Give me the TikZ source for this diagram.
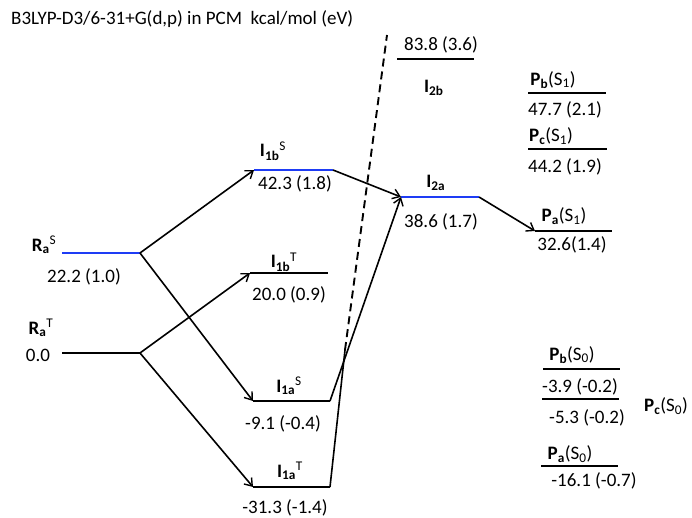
\documentclass[tikz,border=0pt]{standalone}
\usepackage{fontspec}
\setmainfont{Carlito}
\usetikzlibrary{arrows.meta}
\definecolor{lvlblue}{RGB}{30,60,245}
\tikzset{
  lvl/.style={line width=1.8pt, black},
  lvlb/.style={line width=1.8pt, lvlblue},
  arr/.style={line width=1.6pt, -{Straight Barb[length=7pt,width=10pt,line width=1.4pt]}},
  conn/.style={line width=1.6pt},
  txt/.style={font=\fontsize{19}{22}\selectfont, inner sep=0pt},
}
\newcommand{\lab}[3]{\textbf{#1}\textsubscript{\textbf{#2}}\textsuperscript{#3}}
\newcommand{\prd}[2]{\textbf{P}\textsubscript{\textbf{#1}}(S\textsubscript{#2})}
\begin{document}
\begin{tikzpicture}[x=1pt,y=-1pt]
\useasboundingbox (0,0) rectangle (692,518);
\node[txt, anchor=west] (title) at (11,19) {B3LYP-D3/6-31+G(d,p) in PCM\ \ kcal/mol (eV)};

% level end points
\coordinate (RaSl) at (62,253); \coordinate (RaSr) at (140,253);
\coordinate (RaTl) at (62,353); \coordinate (RaTr) at (140,353);
\coordinate (IbSl) at (254,170); \coordinate (IbSr) at (333,170);
\coordinate (IbTl) at (250,273); \coordinate (IbTr) at (328,273);
\coordinate (IaSl) at (253,401); \coordinate (IaSr) at (330,401);
\coordinate (IaTl) at (253,487); \coordinate (IaTr) at (330,487);
\coordinate (IIal) at (401,197); \coordinate (IIar) at (479,197);
\coordinate (IIbl) at (397,59);  \coordinate (IIbr) at (474,59);
\coordinate (PbSl) at (528,93);  \coordinate (PbSr) at (606,93);
\coordinate (PcSl) at (528,149); \coordinate (PcSr) at (607,149);
\coordinate (PaSl) at (535,231); \coordinate (PaSr) at (612,231);
\coordinate (PbOl) at (543,369); \coordinate (PbOr) at (620,369);
\coordinate (PcOl) at (542,399); \coordinate (PcOr) at (619,399);
\coordinate (PaOl) at (541,466); \coordinate (PaOr) at (618,466);
\coordinate (mid) at (345,350);
\coordinate (dtop) at (387,35);

% levels
\draw[lvlb] (RaSl) -- (RaSr);
\draw[lvl] (RaTl) -- (RaTr);
\draw[lvlb] (IbSl) -- (IbSr);
\draw[lvl] (IbTl) -- (IbTr);
\draw[lvl] (IaSl) -- (IaSr);
\draw[lvl] (IaTl) -- (IaTr);
\draw[lvlb] (IIal) -- (IIar);
\draw[lvl] (IIbl) -- (IIbr);
\draw[lvl] (PbSl) -- (PbSr);
\draw[lvl] (PcSl) -- (PcSr);
\draw[lvl] (PaSl) -- (PaSr);
\draw[lvl] (PbOl) -- (PbOr);
\draw[lvl] (PcOl) -- (PcOr);
\draw[lvl] (PaOl) -- (PaOr);

% connectors
\draw[arr] (RaSr) -- (IbSl);
\draw[arr] (RaSr) -- (IaSl);
\draw[arr] (RaTr) -- (IbTl);
\draw[arr] (RaTr) -- (IaTl);
\draw[arr] (IbSr) -- (IIal);
\draw[arr] (IaSr) -- (IIal);
\draw[arr] (IIar) -- (PaSl);
\draw[conn] (IaTr) -- (mid);
\draw[line width=1.9pt, dash pattern=on 8pt off 5pt] (mid) -- (dtop);

% labels
\node[txt] (lRaS) at (44,245) {\lab{R}{a}{S}};
\node[txt] (vRaS) at (84,277) {22.2 (1.0)};
\node[txt] (lRaT) at (41,328) {\lab{R}{a}{T}};
\node[txt] (vRaT) at (38,355) {0.0};
\node[txt] (lIbS) at (273,151) {\lab{I}{1b}{S}};
\node[txt] (vIbS) at (295,184) {42.3 (1.8)};
\node[txt] (lIbT) at (284,262) {\lab{I}{1b}{T}};
\node[txt] (vIbT) at (289,295) {20.0 (0.9)};
\node[txt] (lIaS) at (289,386) {\lab{I}{1a}{S}};
\node[txt] (vIaS) at (283,424) {-9.1 (-0.4)};
\node[txt] (lIaT) at (290,471) {\lab{I}{1a}{T}};
\node[txt] (vIaT) at (285,508) {-31.3 (-1.4)};
\node[txt] (lIIa) at (436,183) {\lab{I}{2a}{}};
\node[txt] (vIIa) at (441,222) {38.6 (1.7)};
\node[txt] (vIIb) at (441,45) {83.8 (3.6)};
\node[txt] (lIIb) at (434,88) {\lab{I}{2b}{}};
\node[txt] (lPbS) at (553,80) {\prd{b}{1}};
\node[txt] (vPbS) at (565,110) {47.7 (2.1)};
\node[txt] (lPcS) at (551,136) {\prd{c}{1}};
\node[txt] (vPcS) at (565,167) {44.2 (1.9)};
\node[txt] (lPaS) at (564,216) {\prd{a}{1}};
\node[txt] (vPaS) at (572,245) {32.6(1.4)};
\node[txt] (lPbO) at (572,355) {\prd{b}{0}};
\node[txt] (vPbO) at (580,387) {-3.9 (-0.2)};
\node[txt] (vPcO) at (587,418) {-5.3 (-0.2)};
\node[txt] (lPcO) at (666,406) {\prd{c}{0}};
\node[txt] (lPaO) at (570,454) {\prd{a}{0}};
\node[txt] (vPaO) at (594,481) {-16.1 (-0.7)};
\end{tikzpicture}
\end{document}
